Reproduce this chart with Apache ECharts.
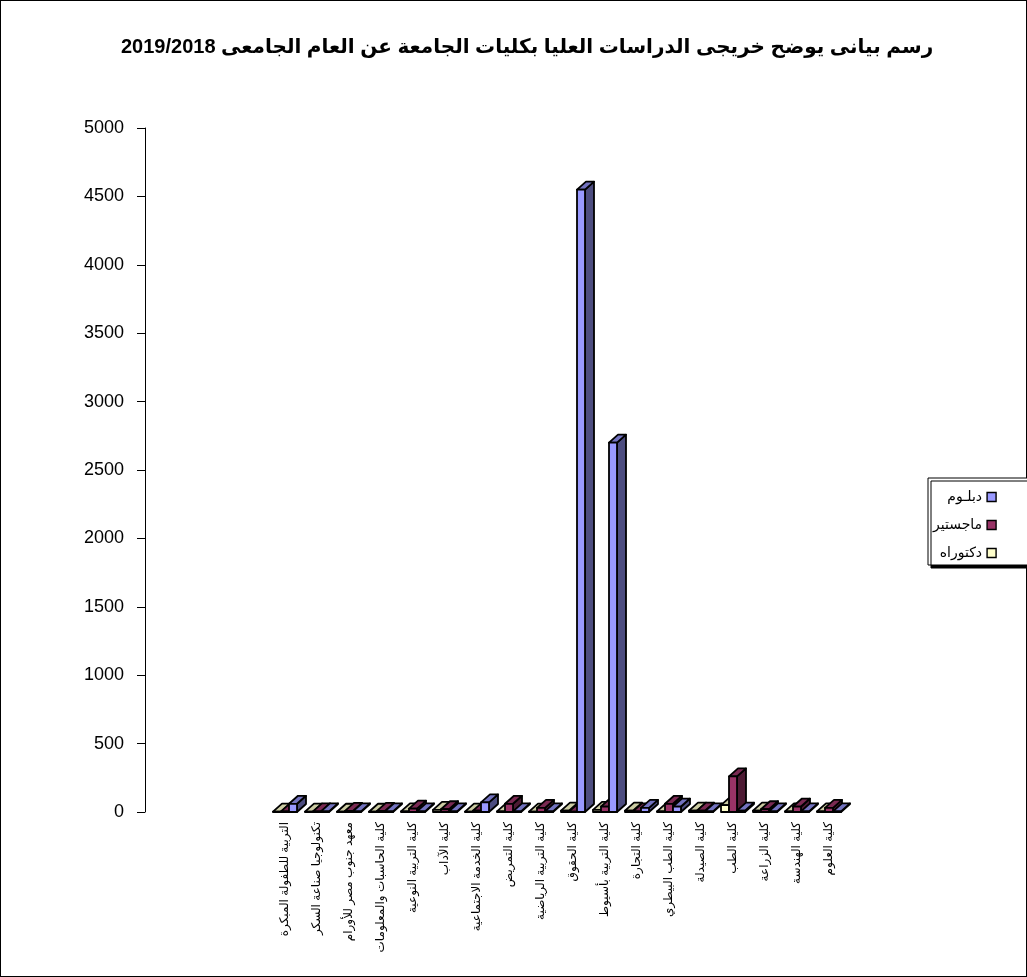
<!DOCTYPE html>
<html>
<head>
<meta charset="utf-8">
<script src="https://cdn.jsdelivr.net/npm/echarts@6/dist/echarts.min.js"></script>
<style>
html,body{margin:0;padding:0;background:#fff;}
#wrap{position:absolute;left:0;top:0;width:1027px;height:977px;box-sizing:border-box;border:1px solid #000;}
#chart{position:absolute;left:0;top:0;width:1027px;height:977px;}
</style>
</head>
<body>
<div id="wrap"></div>
<div id="chart"></div>
<script>
var titleText = 'رسم بيانى يوضح خريجى الدراسات العليا بكليات الجامعة عن العام الجامعى 2019/2018';
var categories = [
  'التربية للطفولة المبكرة',
  'تكنولوجيا صناعة السكر',
  'معهد جنوب مصر للأورام',
  'كلية الحاسبات والمعلومات',
  'كلية التربية النوعية',
  'كلية الآداب',
  'كلية الخدمة الاجتماعية',
  'كلية التمريض',
  'كلية التربية الرياضية',
  'كلية الحقوق',
  'كلية التربية بأسيوط',
  'كلية التجارة',
  'كلية الطب البيطري',
  'كلية الصيدلة',
  'كلية الطب',
  'كلية الزراعة',
  'كلية الهندسة',
  'كلية العلوم'
];
var seriesNames = ['دبلـوم', 'ماجستير', 'دكتوراه'];
var diploma   = [60, 5, 5, 5, 5, 5, 70, 5, 5, 4550, 2700, 30, 40, 5, 10, 5, 5, 5];
var master    = [5, 5, 8, 8, 25, 20, 10, 60, 30, 3, 40, 5, 60, 10, 260, 20, 40, 30];
var doctorate = [3, 3, 2, 2, 5, 15, 3, 5, 3, 10, 15, 10, 5, 10, 50, 10, 5, 5];
var yTicks = [0, 500, 1000, 1500, 2000, 2500, 3000, 3500, 4000, 4500, 5000];

var FONT = 'Arial, "Liberation Sans", "DejaVu Sans", sans-serif';
var W = 8, DX = 9, DY = -8;
var faces = [
  {front: '#9999FF', side: '#4D4D80', top: '#7373C0'},
  {front: '#993366', side: '#4D1A33', top: '#7A2952'},
  {front: '#FFFFCC', side: '#808066', top: '#CCCCA3'}
];
// slot within cluster: doctorate left, master middle, diploma right
var slot = [2, 1, 0];

function makeRender(si) {
  return function (params, api) {
    var i = api.value(0), v = api.value(1);
    var b = api.coord([i, 0]);
    var t = api.coord([i, v]);
    var x0 = b[0] - 12 + slot[si] * W;
    var yb = b[1], yt = t[1];
    var f = faces[si];
    var st = {stroke: '#000', lineWidth: 1.8, lineJoin: 'round'};
    return {
      type: 'group',
      children: [
        {type: 'polygon', shape: {points: [[x0 + W, yb], [x0 + W + DX, yb + DY], [x0 + W + DX, yt + DY], [x0 + W, yt]]},
         style: Object.assign({fill: f.side}, st)},
        {type: 'polygon', shape: {points: [[x0, yt], [x0 + DX, yt + DY], [x0 + W + DX, yt + DY], [x0 + W, yt]]},
         style: Object.assign({fill: f.top}, st)},
        {type: 'rect', shape: {x: x0, y: yt, width: W, height: yb - yt},
         style: Object.assign({fill: f.front}, st)}
      ]
    };
  };
}

var dataSets = [diploma, master, doctorate];
var series = dataSets.map(function (arr, si) {
  return {
    name: seriesNames[si],
    type: 'custom',
    xAxisIndex: 1,
    yAxisIndex: 1,
    z: 10 - si,
    itemStyle: {color: faces[si].front},
    renderItem: makeRender(si),
    encode: {x: 0, y: 1},
    data: arr.map(function (v, i) { return [i, v]; })
  };
});

var chart = echarts.init(document.getElementById('chart'), null, {renderer: 'canvas'});
chart.setOption({
  backgroundColor: 'transparent',
  animation: false,
  title: {
    text: '\u202B' + titleText + '\u202C',
    left: 116,
    top: 32,
    textStyle: {fontFamily: FONT, fontWeight: 'bold', fontSize: 20, color: '#000'}
  },
  legend: {
    orient: 'vertical',
    left: 928,
    top: 478,
    align: 'right',
    data: seriesNames,
    itemWidth: 9,
    itemHeight: 9,
    itemGap: 14,
    padding: [12, 60, 5, 5],
    backgroundColor: '#fff',
    borderColor: '#000',
    borderWidth: 1,
    shadowColor: '#000',
    shadowBlur: 0,
    shadowOffsetX: 3,
    shadowOffsetY: 3,
    icon: 'rect',
    itemStyle: {borderColor: '#000', borderWidth: 1.4},
    textStyle: {fontFamily: FONT, fontSize: 14, color: '#000'}
  },
  grid: [
    {left: 145, top: 128, width: 10, height: 684},
    {left: 269, top: 128, width: 576, height: 684}
  ],
  xAxis: [
    {gridIndex: 0, type: 'category', data: [''], show: false},
    {gridIndex: 1, type: 'category', data: categories,
     axisLine: {show: false}, axisTick: {show: false},
     axisLabel: {interval: 0, rotate: 90, margin: 10, fontFamily: FONT, fontSize: 12, color: '#000'}}
  ],
  yAxis: [
    {gridIndex: 0, type: 'value', min: 0, max: 5000, interval: 500,
     axisLine: {show: true, lineStyle: {color: '#000', width: 1}},
     axisTick: {show: true, length: 8, lineStyle: {color: '#000'}},
     splitLine: {show: false},
     axisLabel: {margin: 21, fontFamily: FONT, fontSize: 18, color: '#000',
       formatter: function (v) { return yTicks.indexOf(v) >= 0 ? String(v) : ''; }}},
    {gridIndex: 1, type: 'value', min: 0, max: 5000, interval: 500, show: false}
  ],
  series: series
});
</script>
</body>
</html>
